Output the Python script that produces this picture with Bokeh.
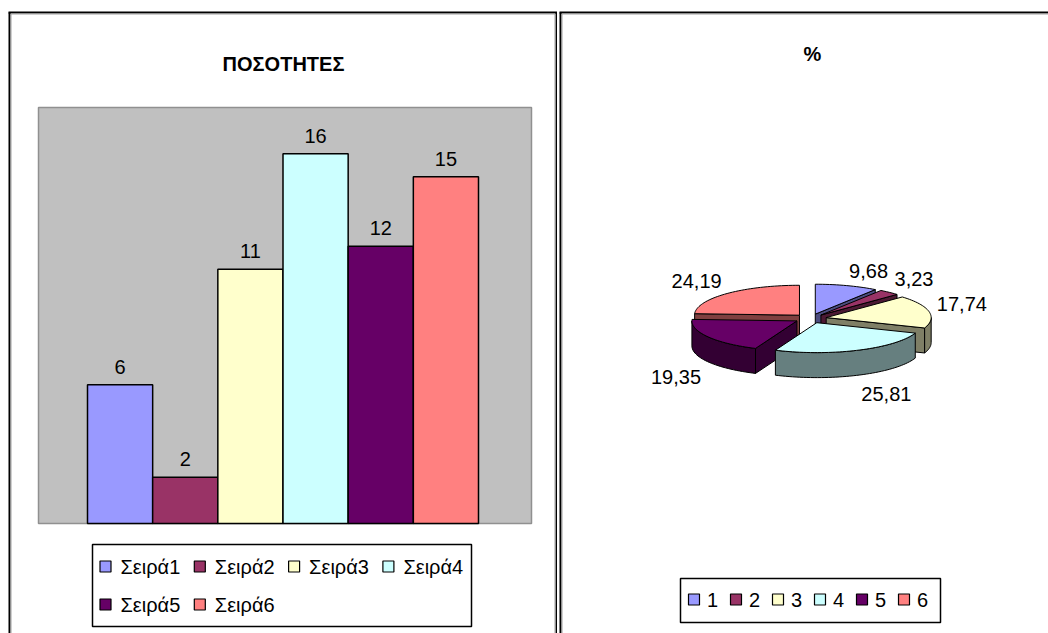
import math

from bokeh.core.properties import value
from bokeh.embed import file_html
from bokeh.layouts import row
from bokeh.models import Range1d
from bokeh.plotting import figure
from bokeh.resources import INLINE

# ---------------- data ----------------
series_names = ["Σειρά1", "Σειρά2", "Σειρά3", "Σειρά4", "Σειρά5", "Σειρά6"]
quantities = [6, 2, 11, 16, 12, 15]
slice_names = ["1", "2", "3", "4", "5", "6"]
bar_title = "ΠΟΣΟΤΗΤΕΣ"
pie_title = "%"
value_axis_max = 18

# ---------------- style ----------------
fills = ["#9999FF", "#993366", "#FFFFCC", "#CCFFFF", "#660066", "#FF8080"]
FONT = value("Liberation Sans")
FONT_SIZE = "20px"
PAGE_W, PAGE_H = 1048, 633
LEFT_W = 557
RIGHT_W = PAGE_W - LEFT_W


def shade(hex_color, f=0.5):
    r, g, b = (int(hex_color[k:k + 2], 16) for k in (1, 3, 5))
    return "#%02x%02x%02x" % (int(r * f), int(g * f), int(b * f))


def bare_figure(width, x_range, y_range):
    p = figure(width=width, height=PAGE_H, x_range=x_range, y_range=y_range,
               output_backend="svg", toolbar_location=None, title=None,
               x_axis_location=None, y_axis_location=None, min_border=0,
               outline_line_color=None, background_fill_color="white",
               border_fill_color="white")
    p.xgrid.visible = False
    p.ygrid.visible = False
    return p


# =============== left panel: column chart ===============
PLOT_L, PLOT_R, PLOT_T, PLOT_B = 38, 531, 107, 523
BARS_L, BARS_R = 87, 478
n = len(quantities)
bar_px = (BARS_R - BARS_L) / n
unit_px = (PLOT_B - PLOT_T) / value_axis_max
x_origin = -0.5 - BARS_L / bar_px


def bx(px):
    return x_origin + px / bar_px


def by(py):
    return (PLOT_B - py) / unit_px


left = bare_figure(LEFT_W, Range1d(bx(0), bx(LEFT_W)), Range1d(by(PAGE_H), by(0)))

# panel frame: black outer rule with a grey inner rule
left.segment(x0=[bx(9), bx(8), bx(556)], y0=[by(PAGE_H), by(12), by(12)],
             x1=[bx(9), bx(LEFT_W), bx(556)], y1=[by(12), by(12), by(PAGE_H)],
             line_color="black", line_width=2)
left.segment(x0=[bx(10.5), bx(10.5), bx(554.5)], y0=[by(PAGE_H), by(13.5), by(13.5)],
             x1=[bx(10.5), bx(554.5), bx(554.5)], y1=[by(13.5), by(13.5), by(PAGE_H)],
             line_color="#a0a0a0", line_width=1)

# plot area
left.quad(left=bx(PLOT_L), right=bx(PLOT_R), bottom=0, top=value_axis_max,
          fill_color="#C0C0C0", line_color="#909090", line_width=1.5)

idx = list(range(n))
left.vbar(x=idx, width=1.0, bottom=0, top=quantities, fill_color=fills,
          line_color="black", line_width=1.5)
left.text(x=idx, y=quantities, text=[str(q) for q in quantities],
          text_align="center", text_baseline="alphabetic", y_offset=-18,
          text_font=FONT, text_font_size=FONT_SIZE, text_color="black")

left.text(x=[bx(283)], y=[by(63)], text=[bar_title], text_align="center",
          text_baseline="middle", text_font=FONT, text_font_size=FONT_SIZE,
          text_font_style="bold", text_color="black")

# legend
left.quad(left=bx(92), right=bx(471), bottom=by(626), top=by(544),
          fill_color="white", line_color="black", line_width=1.5)
col_step = 94.3
leg_x = [105 + col_step * (k % 4) for k in range(n)]
leg_y = [566 + 38 * (k // 4) for k in range(n)]
left.scatter(x=[bx(v) for v in leg_x], y=[by(v) for v in leg_y], marker="square",
             size=11, fill_color=fills, line_color="black", line_width=1.2)
left.text(x=[bx(v + 15) for v in leg_x], y=[by(v) for v in leg_y], text=series_names,
          text_align="left", text_baseline="middle", text_font=FONT,
          text_font_size=FONT_SIZE, text_color="black")

# =============== right panel: exploded 3-D pie ===============
right = bare_figure(RIGHT_W, Range1d(LEFT_W, PAGE_W), Range1d(PAGE_H, 0))

right.segment(x0=[560, 559], y0=[PAGE_H, 12], x1=[560, PAGE_W], y1=[12, 12],
              line_color="black", line_width=2)
right.segment(x0=[561.5, 561.5], y0=[PAGE_H, 13.5], x1=[561.5, PAGE_W], y1=[13.5, 13.5],
              line_color="#a0a0a0", line_width=1)

right.text(x=[812], y=[53], text=[pie_title], text_align="center",
           text_baseline="middle", text_font=FONT, text_font_size=FONT_SIZE,
           text_font_style="bold", text_color="black")

CX, CY = 810, 318
R = 105
TILT = 0.285
DEPTH = 25
EXPLODE = 16

total = sum(quantities)
shares = [100.0 * q / total for q in quantities]
share_text = [f"{s:.2f}".replace(".", ",") for s in shares]


def scr(gx, gy, dz=0.0):
    return (CX + gx, CY - gy * TILT + dz)


slices = []
theta = 90.0  # first slice starts at twelve o'clock, going clockwise
for i, q in enumerate(quantities):
    sweep = 360.0 * q / total
    a, b = theta - sweep, theta
    theta = a
    m = math.radians((a + b) / 2)
    slices.append(dict(i=i, a=a, b=b, m=m,
                       ox=EXPLODE * math.cos(m), oy=EXPLODE * math.sin(m)))


def arc(s, t0, t1, dz):
    steps = max(2, int(abs(t1 - t0) / 2) + 1)
    pts = []
    for k in range(steps + 1):
        t = math.radians(t0 + (t1 - t0) * k / steps)
        pts.append(scr(s["ox"] + R * math.cos(t), s["oy"] + R * math.sin(t), dz))
    return pts


xs, ys, fc = [], [], []


def add(poly, color):
    xs.append([p[0] for p in poly])
    ys.append([p[1] for p in poly])
    fc.append(color)


# back slices first, then the ones nearer the viewer
for s in sorted(slices, key=lambda s: -math.sin(s["m"])):
    dark = shade(fills[s["i"]])
    c_top = scr(s["ox"], s["oy"])
    c_bot = scr(s["ox"], s["oy"], DEPTH)
    # cut faces that turn toward the viewer
    for edge, visible in ((s["a"], math.cos(math.radians(s["a"])) > 1e-6),
                          (s["b"], math.cos(math.radians(s["b"])) < -1e-6)):
        if visible:
            t = math.radians(edge)
            gx, gy = s["ox"] + R * math.cos(t), s["oy"] + R * math.sin(t)
            add([c_top, scr(gx, gy), scr(gx, gy, DEPTH), c_bot], dark)
    # front part of the rim
    for k in range(-2, 3):
        lo = max(s["a"], 180 + 360 * k)
        hi = min(s["b"], 360 + 360 * k)
        if hi - lo > 1e-6:
            add(arc(s, lo, hi, 0) + arc(s, hi, lo, DEPTH), dark)
    add([c_top] + arc(s, s["a"], s["b"], 0), fills[s["i"]])

right.patches(xs=xs, ys=ys, fill_color=fc, line_color="black", line_width=1)

# data labels around the pie
lx, ly, la, lb = [], [], [], []
for s in slices:
    c, sn = math.cos(s["m"]), math.sin(s["m"])
    lx.append(CX + (R + EXPLODE + 8) * c)
    y = CY - (R + EXPLODE) * TILT * sn - 8 * sn
    if sn < -0.3:
        lb.append("top")
        y += DEPTH + 4
    elif sn > 0.3:
        lb.append("bottom")
    else:
        lb.append("middle")
        y -= 6
    ly.append(y)
    la.append("left" if c > 0.25 else ("right" if c < -0.25 else "center"))
right.text(x=lx, y=ly, text=share_text, text_align=la, text_baseline=lb,
           text_font=FONT, text_font_size=FONT_SIZE, text_color="black")

# legend
right.quad(left=680, right=940, top=578, bottom=622, fill_color="white",
           line_color="black", line_width=1.5)
pl_x = [693.5 + 42 * k for k in range(n)]
right.scatter(x=pl_x, y=[599] * n, marker="square", size=11, fill_color=fills,
              line_color="black", line_width=1.2)
right.text(x=[v + 13 for v in pl_x], y=[599] * n, text=slice_names,
           text_align="left", text_baseline="middle", text_font=FONT,
           text_font_size=FONT_SIZE, text_color="black")

page = row(left, right, spacing=0)
open("out.html", "w").write(file_html(page, INLINE))
